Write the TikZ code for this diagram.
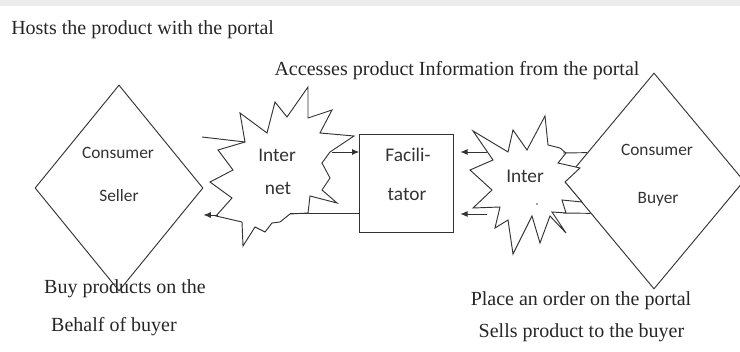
\documentclass[tikz,border=0pt]{standalone}
\usepackage{fontspec}
\setmainfont{Liberation Serif}
\newfontfamily\cfont{Carlito}
\usetikzlibrary{shapes.geometric,arrows.meta}
\tikzset{
  shp/.style={draw=black!80, line width=0.7pt},
  tip/.style={-{Latex[length=5.5pt,width=4.5pt]}},
  lbl/.style={inner sep=0pt, text=black!85, font=\fontsize{15}{17}\selectfont},
  inlbl/.style={inner sep=0pt, text=black!80, font=\cfont\fontsize{13}{15}\selectfont},
  boxlbl/.style={inner sep=0pt, text=black!80, font=\cfont\fontsize{14.5}{16}\selectfont},
}
\begin{document}
\begin{tikzpicture}[x=0.75pt,y=-0.75pt]
\useasboundingbox (0,0) rectangle (740,352);
\fill[gray!15] (0,0) rectangle (740,6);

\node[shp, diamond, minimum width=126pt, minimum height=154.5pt, inner sep=0pt] (seller) at (119,188) {};
\node[shp, diamond, minimum width=135pt, minimum height=162pt, inner sep=0pt] (buyer) at (654,181) {};
\node[shp, minimum width=70pt, minimum height=73pt, inner sep=0pt] (facil) at (406.5,183.5) {};

% left star
\draw[shp, fill=white] (245,142) -- (240,113) -- (267,133) -- (275,102) -- (287,117) -- (308,87)
  -- (308,118) -- (332,110) -- (320,133) -- (354,136) -- (330,152) -- (322,163) -- (330,178)
  -- (322,190) -- (337,203) -- (310,196) -- (308,213) -- (290,214) -- (280,222) -- (272,223)
  -- (265,232) -- (255,227) -- (243,246) -- (242,222) -- (216,216) -- (232,198) -- (210,182)
  -- (233,170) -- (218,150) -- cycle;
\coordinate (lnetL) at (245,142);
\coordinate (lnetE) at (332,152);
\coordinate (lnetS) at (290,213);
\coordinate (lnetW) at (218,215);
\draw[shp] (lnetL) -- (202,137);

% right star
\draw[shp, fill=white] (473,131) -- (508,152) -- (513,130) -- (527,150) -- (545,116) -- (548,145)
  -- (560,148) -- (566,153) -- (558,163) -- (580,168) -- (565,182) -- (582,202) -- (562,200)
  -- (566,213) -- (552,212) -- (566,233) -- (550,216) -- (540,243) -- (532,216) -- (513,254)
  -- (508,220) -- (495,228) -- (500,207) -- (473,208) -- (492,190) -- (470,170) -- (493,160) -- cycle;
\coordinate (rnetU) at (487,152);
\coordinate (rnetD) at (487,214);
\coordinate (rnetA) at (563,153);
\coordinate (rnetB) at (563,213);

% connectors
\draw[shp,tip] (lnetE) -- (facil.west |- lnetE);
\draw[shp] (facil.west |- lnetS) -- (lnetS);
\draw[shp,tip] (lnetW) -- (seller.east |- lnetW);
\draw[shp,tip] (rnetU) -- ([xshift=5pt]facil.east |- rnetU);
\draw[shp,tip] (rnetD) -- ([xshift=5pt]facil.east |- rnetD);
\draw[shp] (rnetA) -- (buyer.157);
\draw[shp] (rnetB) -- (buyer.207);

% texts
\node[inlbl] (sconsum) at (118,153) {Consumer};
\node[inlbl] (sseller) at (119,196) {Seller};
\node[boxlbl] (linter) at (277,155) {Inter};
\node[boxlbl] (lnet) at (278,188) {net};
\node[boxlbl] (facila) at (408,155) {Facili-};
\node[boxlbl] (facilb) at (407,194) {tator};
\node[boxlbl] (rinter) at (525,176) {Inter};
\fill[black!70] (537,204) circle (0.6pt);
\node[inlbl] (bconsum) at (657,150) {Consumer};
\node[inlbl] (bbuyer) at (658,199) {Buyer};

\node[lbl, anchor=west] (hosts) at (11,30) {Hosts the product with the portal};
\node[lbl] (access) at (457,71) {Accesses product Information from the portal};
\node[lbl] (buy1) at (125,289) {Buy products on the};
\node[lbl] (buy2) at (114,327) {Behalf of buyer};
\node[lbl] (place) at (581,301) {Place an order on the portal};
\node[lbl] (sells) at (581.5,333) {Sells product to the buyer};
\end{tikzpicture}
\end{document}
